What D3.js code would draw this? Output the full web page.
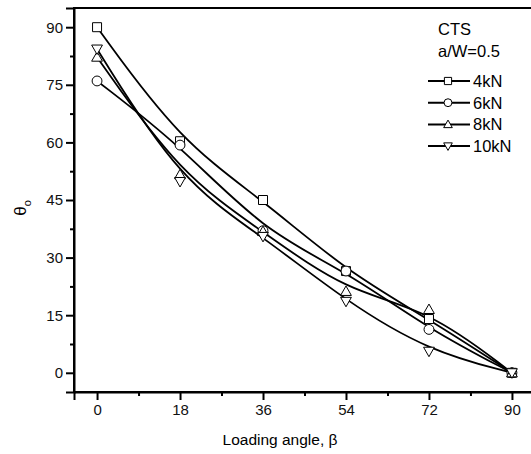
<!DOCTYPE html>
<html>
<head>
<meta charset="utf-8">
<script src="https://cdn.jsdelivr.net/npm/d3@7"></script>
<style>
  body { margin: 0; background: #fff; }
  svg { display: block; font-family: "Liberation Sans", Arial, sans-serif; }
</style>
</head>
<body>
<div id="chart"></div>
<script>
// data
const angles = [0, 18, 36, 54, 72, 90];
const load4 = [90, 60.3, 45, 26.5, 14, 0];
const load6 = [76, 59.3, 37, 26.5, 11.3, 0];
const load8 = [82.2, 51.6, 36.8, 21.2, 16.5, 0];
const load10 = [84.3, 49.8, 35.5, 18.6, 5.6, 0];
const seriesNames = ["4kN", "6kN", "8kN", "10kN"];
const seriesShapes = ["square", "circle", "up", "down"];
const xTicks = [0, 18, 36, 54, 72, 90];
const yTicks = [0, 15, 30, 45, 60, 75, 90];

const width = 531, height = 454;
const svg = d3.select("#chart").append("svg")
  .attr("width", width).attr("height", height);

const x = d3.scaleLinear().domain([-5, 95]).range([74, 535]);
const y = d3.scaleLinear().domain([-5, 95]).range([392, 8]);

// frame
svg.append("rect")
  .attr("x", x(-5)).attr("y", y(95))
  .attr("width", x(95) - x(-5)).attr("height", y(-5) - y(95))
  .attr("fill", "none").attr("stroke", "#000").attr("stroke-width", 2);

// axes
svg.append("g").attr("transform", `translate(0,${y(-5)})`)
  .call(d3.axisBottom(x).tickValues(xTicks).tickSize(8).tickPadding(4));
svg.append("g").attr("transform", `translate(0,${y(-5)})`)
  .call(d3.axisBottom(x).tickValues(d3.range(9, 90, 18)).tickSize(4).tickFormat(""))
  .call(g => g.select(".domain").remove());
svg.append("g").attr("transform", `translate(${x(-5)},0)`)
  .call(d3.axisLeft(y).tickValues(yTicks).tickSize(8).tickPadding(3));
svg.append("g").attr("transform", `translate(${x(-5)},0)`)
  .call(d3.axisLeft(y).tickValues(d3.range(7.5, 90, 15)).tickSize(4).tickFormat(""))
  .call(g => g.select(".domain").remove());

svg.selectAll(".domain").attr("stroke-width", 2);
svg.selectAll(".tick line").attr("stroke-width", 2);
svg.selectAll(".tick text").attr("font-size", 15).attr("fill", "#111")
  .attr("font-family", "Liberation Sans, Arial, sans-serif");

// axis titles
svg.append("text").attr("x", 280).attr("y", 445)
  .attr("text-anchor", "middle").attr("font-size", 15.5)
  .text("Loading angle, β");

svg.append("text")
  .attr("transform", "translate(26,208) rotate(-90)")
  .attr("text-anchor", "middle").attr("font-size", 17)
  .call(t => {
    t.append("tspan").text("θ");
    t.append("tspan").attr("font-size", 11).attr("dy", 5).text("o");
  });

// marker shapes
function markerPath(shape, s) {
  if (shape === "square") return `M${-s},${-s}H${s}V${s}H${-s}Z`;
  if (shape === "circle") return d3.symbol(d3.symbolCircle, Math.PI * s * s * 1.2)();
  const h = s * 1.2;
  if (shape === "up") return `M0,${-h}L${h},${h * 0.75}L${-h},${h * 0.75}Z`;
  return `M0,${h}L${h},${-h * 0.75}L${-h},${-h * 0.75}Z`;
}

const allSeries = [load4, load6, load8, load10];
const line = d3.line()
  .x((d, i) => x(angles[i]))
  .y(d => y(d))
  .curve(d3.curveBasis);

allSeries.forEach(vals => {
  svg.append("path").datum(vals)
    .attr("d", line)
    .attr("fill", "none").attr("stroke", "#000").attr("stroke-width", 1.8);
});
allSeries.forEach((vals, k) => {
  svg.append("g").selectAll("path").data(vals).join("path")
    .attr("transform", (d, i) => `translate(${x(angles[i])},${y(d)})`)
    .attr("d", markerPath(seriesShapes[k], 4.5))
    .attr("fill", "#fff").attr("stroke", "#000").attr("stroke-width", 1);
});

// legend
svg.append("text").attr("x", 438).attr("y", 35).attr("font-size", 16.5).text("CTS");
svg.append("text").attr("x", 438).attr("y", 57).attr("font-size", 16.5).text("a/W=0.5");
seriesNames.forEach((name, k) => {
  const cy = 81 + k * 21.7;
  svg.append("line").attr("x1", 428).attr("x2", 470).attr("y1", cy).attr("y2", cy)
    .attr("stroke", "#000").attr("stroke-width", 2);
  svg.append("path").attr("transform", `translate(448,${cy})`)
    .attr("d", markerPath(seriesShapes[k], 3.6))
    .attr("fill", "#fff").attr("stroke", "#000").attr("stroke-width", 1);
  svg.append("text").attr("x", 473).attr("y", cy + 6).attr("font-size", 16.5).text(name);
});
</script>
</body>
</html>
